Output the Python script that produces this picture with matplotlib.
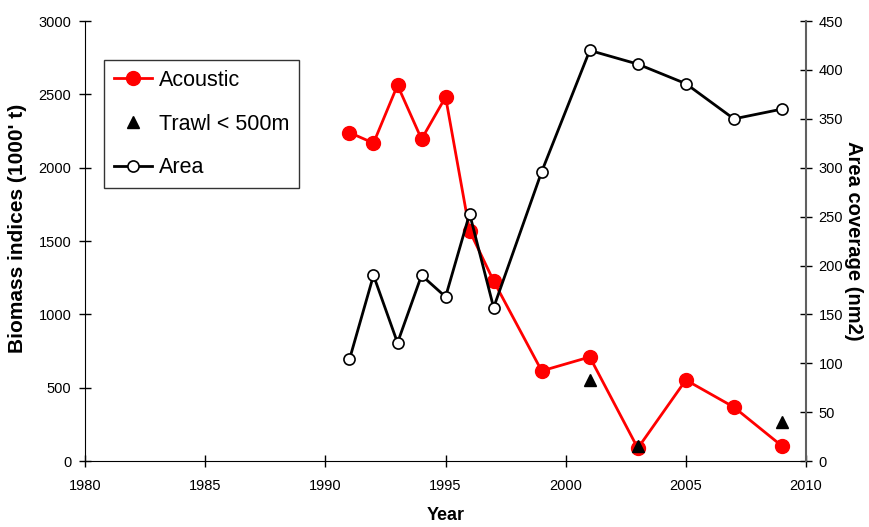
import matplotlib
matplotlib.use('Agg')
import matplotlib.pyplot as plt

plt.rcParams['font.family'] = ['Liberation Sans', 'DejaVu Sans']

# acoustic biomass index (1000 t)
acoustic_years = [1991, 1992, 1993, 1994, 1995, 1996, 1997, 1999, 2001, 2003, 2005, 2007, 2009]
acoustic_vals = [2240, 2168, 2563, 2195, 2482, 1570, 1228, 615, 710, 88, 553, 368, 103]

# trawl survey < 500 m (1000 t)
trawl_years = [2001, 2003, 2009]
trawl_vals = [550, 100, 268]

# area coverage (nm2)
area_years = [1991, 1992, 1993, 1994, 1995, 1996, 1997, 1999, 2001, 2003, 2005, 2007, 2009]
area_vals = [104, 190, 121, 190, 168, 253, 157, 296, 420, 406, 386, 350, 360]

fig = plt.figure(figsize=(8.69, 5.27), dpi=100)
ax = fig.add_axes([0.098, 0.125, 0.8295, 0.835])
ax2 = ax.twinx()

l1, = ax.plot(acoustic_years, acoustic_vals, color='#ff0000', lw=2,
              marker='o', ms=10, mfc='#ff0000', mec='#ff0000', label='Acoustic')
l2, = ax.plot(trawl_years, trawl_vals, ls='none', marker='^', ms=8,
              color='black', label='Trawl < 500m')
l3, = ax2.plot(area_years, area_vals, color='black', lw=2, marker='o', ms=8,
               mfc='white', mec='black', mew=1.2, label='Area')

ax.set_xlim(1980, 2010)
ax.set_ylim(0, 3000)
ax2.set_ylim(0, 450)
ax.set_xticks(range(1980, 2011, 5))
ax.set_yticks(range(0, 3001, 500))
ax2.set_yticks(range(0, 451, 50))

for a in (ax, ax2):
    a.tick_params(direction='inout', length=8, width=1, labelsize=10.5)
    a.spines['top'].set_visible(False)
ax.spines['right'].set_visible(False)
ax2.spines['left'].set_visible(False)
ax2.spines['bottom'].set_visible(False)
ax2.spines['right'].set_color('#606060')
ax2.spines['right'].set_linewidth(1.5)
ax.tick_params(axis='x', pad=9)
ax.tick_params(axis='y', pad=6)
ax2.tick_params(axis='y', pad=5)

ax.set_xlabel('Year', fontsize=13, fontweight='bold', labelpad=10)
ax.set_ylabel('Biomass indices (1000\' t)', fontsize=15, fontweight='bold')
ax.yaxis.set_label_coords(-0.080, 0.53)
ax2.set_ylabel('Area coverage (nm2)', fontsize=14.5, fontweight='bold',
               rotation=270, labelpad=14)

leg = ax2.legend(handles=[l1, l2, l3], loc='upper left',
                 bbox_to_anchor=(0.026, 0.911), borderaxespad=0,
                 fontsize=15.5, frameon=True, fancybox=False, edgecolor='black',
                 handlelength=1.8, labelspacing=1.05, borderpad=0.45,
                 handletextpad=0.3)
leg.get_frame().set_linewidth(1)

fig.savefig('out.png', dpi=100)
